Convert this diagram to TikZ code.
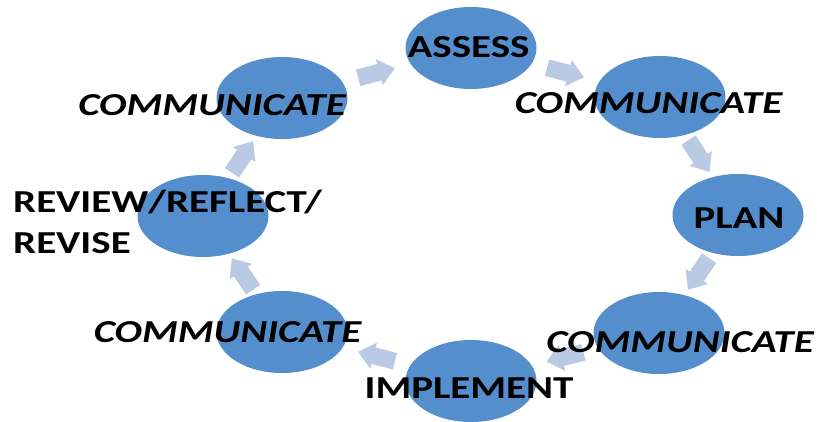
\documentclass[tikz,border=0pt]{standalone}
\usepackage{fontspec}
\setmainfont[FakeStretch=1.28]{Carlito}
\usepackage{xcolor}
\usetikzlibrary{shapes.geometric}
\usetikzlibrary{decorations.markings}
\definecolor{ellblue}{RGB}{84,142,204}
\definecolor{arrowblue}{RGB}{186,201,228}

\begin{document}
\begin{tikzpicture}[x=1pt, y=-1pt] % Pixelkoordinaten, y nach unten
\tikzstyle{phase} = [ellipse, fill=ellblue, minimum width=131pt, minimum height=82pt, inner sep=0pt]
\tikzstyle{phasetext} = [font=\bfseries\fontsize{32}{41}\selectfont, inner sep=0pt, anchor=base]
\tikzstyle{commtext} = [phasetext, font=\bfseries\itshape\fontsize{32}{41}\selectfont]
\tikzstyle{flow} = [postaction={decorate, decoration={markings, mark=at position 0.5 with {\fill[arrowblue] (-19,-8.5) -- (3,-8.5) -- (3,-13.5) -- (19,0) -- (3,13.5) -- (3,8.5) -- (-19,8.5) -- cycle;}}}]
\useasboundingbox (0,0) rectangle (820,421);
\node[phase] (assess) at (471,48) {};
\node[phase] (comm1) at (660,97) {};
\node[phase] (plan) at (738,215) {};
\node[phase] (comm2) at (659,333) {};
\node[phase] (implement) at (471,381) {};
\node[phase] (comm3) at (282,332) {};
\node[phase] (review) at (203,216) {};
\node[phase] (comm4) at (282,98) {};
\foreach \from/\to in {comm4/assess, assess/comm1, comm1/plan, plan/comm2, comm2/implement, implement/comm3, comm3/review, review/comm4}
\path [flow] (\from) -- (\to);
\node[phasetext] (assesstext) at (468.5,57) {ASSESS};
\node[commtext] (comm1text) at (648.5,113) {COMMUNICATE};
\node[phasetext] (plantext) at (739,228) {PLAN};
\node[commtext] (comm2text) at (680,352) {COMMUNICATE};
\node[phasetext] (implementtext) at (469,398) {IMPLEMENT};
\node[commtext] (comm3text) at (227.5,342) {COMMUNICATE};
\node[phasetext, anchor=base west, align=left] (reviewtext) at (13,253) {REVIEW/REFLECT/\\REVISE};
\node[commtext] (comm4text) at (212,115) {COMMUNICATE};
\end{tikzpicture}
\end{document}
